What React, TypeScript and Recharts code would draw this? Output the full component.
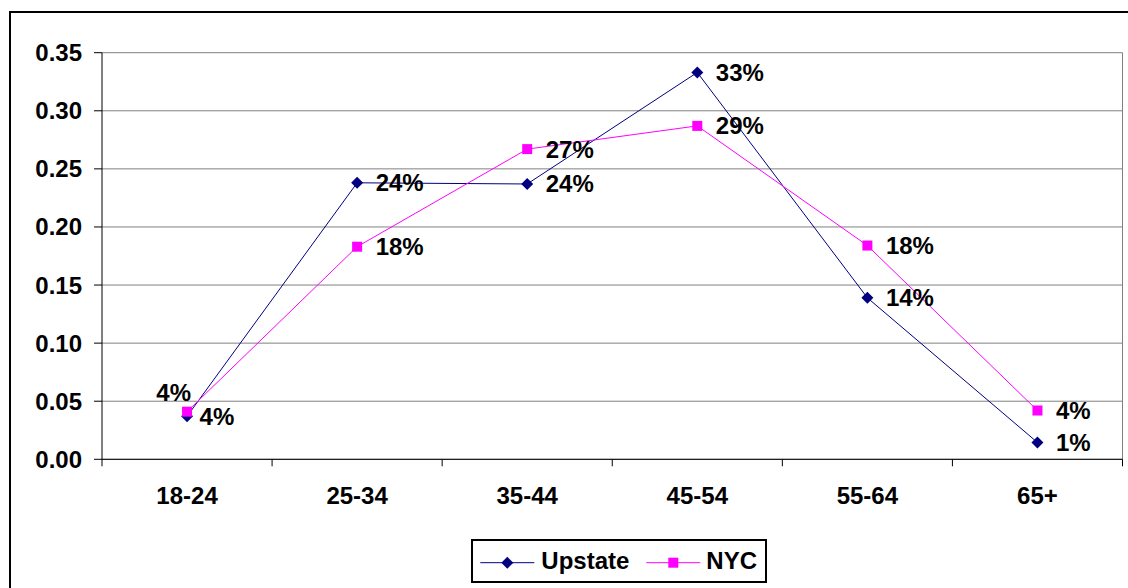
import { LineChart, Line, XAxis, YAxis, CartesianGrid, Legend, LabelList } from 'recharts';

const ages = ['18-24', '25-34', '35-44', '45-54', '55-64', '65+'];
const upstate = [0.037, 0.238, 0.237, 0.333, 0.139, 0.0145];
const nyc = [0.041, 0.183, 0.267, 0.287, 0.184, 0.042];
const yTicks = [0, 0.05, 0.1, 0.15, 0.2, 0.25, 0.3, 0.35];

const data = ages.map((age, i) => ({ age, upstate: upstate[i], nyc: nyc[i] }));

const FONT = '"Liberation Sans", Arial, sans-serif';
const CHART_W = 1117;
const CHART_H = 576;
const MARGIN = { top: 39.7, right: 5.5, bottom: 69.7, left: 0 };
const Y_W = 91;
const HALF_BAND = (CHART_W - MARGIN.left - MARGIN.right - Y_W) / ages.length / 2;
const X_TICK = 7;
const X_MARGIN = 21;

const pct = (v: number) => `${Math.round(v * 100)}%`;

const AgeTick = (props: any) => {
  const { x, y, payload, index } = props;
  const axisY = y - X_TICK - X_MARGIN;
  return (
    <g>
      <line x1={x - HALF_BAND} x2={x - HALF_BAND} y1={axisY} y2={axisY + X_TICK} stroke="#000" />
      {index === ages.length - 1 && (
        <line x1={x + HALF_BAND} x2={x + HALF_BAND} y1={axisY} y2={axisY + X_TICK} stroke="#000" />
      )}
      <text x={x} y={y} dy="0.71em" textAnchor="middle" fontSize={24} fontWeight="bold" fontFamily={FONT} fill="#000">
        {payload.value}
      </text>
    </g>
  );
};

const Diamond = (props: any) => {
  const { cx, cy, index } = props;
  return (
    <path key={`d${index}`} d={`M${cx},${cy - 6}L${cx + 6},${cy}L${cx},${cy + 6}L${cx - 6},${cy}Z`} fill="#000080" />
  );
};

const Square = (props: any) => {
  const { cx, cy, index } = props;
  return <rect key={`s${index}`} x={cx - 5} y={cy - 5} width={10} height={10} fill="#FF00FF" />;
};

const upstateLabel = (props: any) => {
  const { x, y, value, index } = props;
  return (
    <text x={x + (index === 0 ? 12.5 : 18.5)} y={y} dy="0.35em" fontSize={24} fontWeight="bold" fontFamily={FONT} fill="#000">
      {pct(value)}
    </text>
  );
};

const nycLabel = (props: any) => {
  const { x, y, value, index } = props;
  if (index === 0) {
    return (
      <text x={x + 4} y={y - 19} dy="0.35em" textAnchor="end" fontSize={24} fontWeight="bold" fontFamily={FONT} fill="#000">
        {pct(value)}
      </text>
    );
  }
  return (
    <text x={x + 18.5} y={y} dy="0.35em" fontSize={24} fontWeight="bold" fontFamily={FONT} fill="#000">
      {pct(value)}
    </text>
  );
};

const LegendBox = () => (
  <div style={{ width: 296, height: 44, border: '2px solid #000', boxSizing: 'border-box', background: '#fff' }}>
    <svg width={292} height={40} style={{ display: 'block' }}>
      <line x1={7.3} x2={61.3} y1={21.7} y2={21.7} stroke="#000080" />
      <path d="M34.3,15.7L40.3,21.7L34.3,27.7L28.3,21.7Z" fill="#000080" />
      <text x={68.3} y={28} fontSize={24} fontWeight="bold" fontFamily={FONT} fill="#000">Upstate</text>
      <line x1={173.3} x2={227.3} y1={21.7} y2={21.7} stroke="#FF00FF" />
      <rect x={195.3} y={16.7} width={10} height={10} fill="#FF00FF" />
      <text x={233.3} y={28} fontSize={24} fontWeight="bold" fontFamily={FONT} fill="#000">NYC</text>
    </svg>
  </div>
);

export default function App() {
  return (
    <div
      style={{
        position: 'absolute',
        left: 9,
        top: 11,
        border: '2px solid #000',
        width: CHART_W,
        height: CHART_H,
        background: '#fff',
        fontFamily: FONT,
      }}
    >
      <LineChart width={CHART_W} height={CHART_H} data={data} margin={MARGIN}>
        <CartesianGrid
          stroke="#808080"
          verticalCoordinatesGenerator={({ offset }: any) => [offset.left + offset.width]}
        />
        <XAxis
          dataKey="age"
          stroke="#000"
          tickLine={false}
          tickSize={X_TICK}
          tickMargin={X_MARGIN}
          tick={<AgeTick />}
          height={60}
          interval={0}
          padding={{ left: HALF_BAND, right: HALF_BAND }}
        />
        <YAxis
          width={Y_W}
          domain={[0, 0.35]}
          ticks={yTicks}
          stroke="#000"
          tickSize={8}
          tickMargin={12}
          tickFormatter={(v: number) => v.toFixed(2)}
          tick={{ fontSize: 24, fontWeight: 'bold', fill: '#000', fontFamily: FONT }}
        />
        <Legend
          verticalAlign="middle"
          layout="horizontal"
          content={<LegendBox />}
          wrapperStyle={{ left: 459.7, top: 526.3, width: 296, height: 44 }}
        />
        <Line
          type="linear"
          dataKey="upstate"
          name="Upstate"
          stroke="#000080"
          strokeWidth={1}
          dot={Diamond}
          activeDot={false}
          isAnimationActive={false}
        >
          <LabelList dataKey="upstate" content={upstateLabel} />
        </Line>
        <Line
          type="linear"
          dataKey="nyc"
          name="NYC"
          stroke="#FF00FF"
          strokeWidth={1}
          dot={Square}
          activeDot={false}
          isAnimationActive={false}
        >
          <LabelList dataKey="nyc" content={nycLabel} />
        </Line>
      </LineChart>
    </div>
  );
}
